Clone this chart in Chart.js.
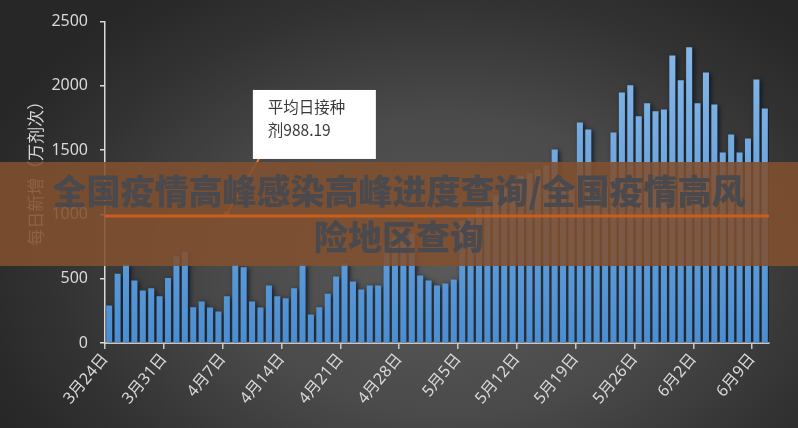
<!DOCTYPE html>
<html>
<head>
<meta charset="utf-8">
<script src="https://cdn.jsdelivr.net/npm/chart.js@4.4.0/dist/chart.umd.min.js"></script>
<style>
  html, body { margin: 0; padding: 0; width: 798px; height: 428px; overflow: hidden; background: #333; }
  #wrap {
    position: relative; width: 798px; height: 428px;
    background: radial-gradient(ellipse 62% 78% at 56% 62%, #5a5a5a 0%, #4a4a4a 45%, #333333 78%, #272727 100%);
  }
  #c, #ov { position: absolute; left: 0; top: 0; }
  #ov { pointer-events: none; }
  #banner {
    position: absolute; left: 0; top: 162px; width: 798px; height: 104px;
    background: rgba(129, 80, 47, 0.88);
    box-sizing: border-box; padding-top: 5px;
    text-align: center;
    font-family: "Noto Sans CJK SC", "Noto Sans", sans-serif;
    font-weight: 900; font-size: 34px; line-height: 46px;
    color: #4a4a4e;
  }
</style>
</head>
<body>
<div id="wrap">
  <canvas id="c" width="798" height="428"></canvas>
  <div id="banner"><div>全国疫情高峰感染高峰进度查询/全国疫情高风</div><div>险地区查询</div></div>
  <canvas id="ov" width="798" height="428"></canvas>
</div>
<script>
// ---------- data ----------
const DATES = [
  '3月24日','3月25日','3月26日','3月27日','3月28日','3月29日','3月30日','3月31日',
  '4月1日','4月2日','4月3日','4月4日','4月5日','4月6日','4月7日','4月8日','4月9日','4月10日',
  '4月11日','4月12日','4月13日','4月14日','4月15日','4月16日','4月17日','4月18日','4月19日','4月20日',
  '4月21日','4月22日','4月23日','4月24日','4月25日','4月26日','4月27日','4月28日','4月29日','4月30日',
  '5月1日','5月2日','5月3日','5月4日','5月5日','5月6日','5月7日','5月8日','5月9日','5月10日',
  '5月11日','5月12日','5月13日','5月14日','5月15日','5月16日','5月17日','5月18日','5月19日','5月20日',
  '5月21日','5月22日','5月23日','5月24日','5月25日','5月26日','5月27日','5月28日','5月29日','5月30日',
  '5月31日','6月1日','6月2日','6月3日','6月4日','6月5日','6月6日','6月7日','6月8日','6月9日','6月10日'
];
const DOSES = [
  292, 538, 610, 486, 408, 426, 364, 505,
  673, 707, 279, 323, 276, 245, 364, 610, 590, 323,
  276, 447, 364, 349, 426, 610, 222, 279, 383, 517,
  620, 478, 416, 447, 447, 760, 820, 880, 850, 525,
  486, 447, 463, 494, 950, 1000, 1050, 1100, 1150, 1200,
  1250, 1300, 1320, 1350, 1380, 1506, 1250, 1200, 1716, 1661,
  1150, 1215, 1638, 1949, 2004, 1763, 1864, 1802, 1817, 2237,
  2043, 2300, 1864, 2105, 1856, 1482, 1622, 1482, 1591, 2050, 1825
];
const Y_TICKS = [0, 500, 1000, 1500, 2000, 2500];
const LABEL_EVERY = 7;
const AVG = 988.19;
const AVG_LABEL = ['平均日接种', '剂988.19'];
const ANCHOR_INDEX = 14;
const Y_TITLE = '每日新增（万剂次）';

// ---------- plugins ----------
const barShadow = {
  id: 'barShadow',
  beforeDatasetDraw(chart) {
    const c = chart.ctx;
    c.save();
    c.shadowColor = 'rgba(8,16,30,0.85)';
    c.shadowBlur = 5;
    c.shadowOffsetX = 2;
    c.shadowOffsetY = 1;
  },
  afterDatasetDraw(chart) { chart.ctx.restore(); }
};

const yTitle = {
  id: 'yTitle',
  afterDraw(chart) {
    const c = chart.ctx;
    const a = chart.chartArea;
    c.save();
    c.translate(36, (a.top + a.bottom) / 2 - 13);
    c.rotate(-Math.PI / 2);
    c.fillStyle = '#d9d9d9';
    c.font = '17px "Noto Sans CJK SC", sans-serif';
    c.textAlign = 'center';
    c.textBaseline = 'middle';
    c.fillText(Y_TITLE, 0, 0);
    c.restore();
  }
};

// callout (box + leader) on the chart canvas; average line on the top overlay
const avgAnno = {
  id: 'avgAnno',
  afterDatasetsDraw(chart) {
    const c = chart.ctx;
    const y = chart.scales.y.getPixelForValue(AVG);
    const ax = chart.scales.x.getPixelForValue(ANCHOR_INDEX);
    const bx = ax + 26, bw = 123, bh = 69, by = y - 126;
    c.save();
    c.strokeStyle = '#f07a2a';
    c.lineWidth = 2;
    c.beginPath();
    c.moveTo(bx + 6, by + bh);
    c.lineTo(ax, y - 2);
    c.stroke();
    c.fillStyle = '#f07a2a';
    c.beginPath();
    c.arc(ax, y - 2, 3, 0, Math.PI * 2);
    c.fill();
    c.fillStyle = '#ffffff';
    c.fillRect(bx, by, bw, bh);
    c.fillStyle = '#3a3a3a';
    c.font = '15.5px "Noto Sans CJK SC", sans-serif';
    c.textAlign = 'left';
    c.textBaseline = 'middle';
    c.fillText(AVG_LABEL[0], bx + 15, by + 17);
    c.fillText(AVG_LABEL[1], bx + 15, by + 40);
    c.restore();
  },
  afterDraw(chart) {
    const o = document.getElementById('ov').getContext('2d');
    const a = chart.chartArea;
    const y = chart.scales.y.getPixelForValue(AVG);
    o.clearRect(0, 0, o.canvas.width, o.canvas.height);
    o.save();
    o.strokeStyle = '#c95d1b';
    o.lineWidth = 3;
    o.beginPath();
    o.moveTo(a.left, y);
    o.lineTo(a.right, y);
    o.stroke();
    o.restore();
  }
};

// ---------- chart ----------
const ctx = document.getElementById('c').getContext('2d');
const FONT = '"Noto Sans", "Noto Sans CJK SC", sans-serif';

new Chart(ctx, {
  type: 'bar',
  data: {
    labels: DATES,
    datasets: [{
      data: DOSES,
      backgroundColor: (context) => {
        const area = context.chart.chartArea;
        if (!area) return '#5b9bd5';
        const g = context.chart.ctx.createLinearGradient(0, area.top, 0, area.bottom);
        g.addColorStop(0, '#8bbbe9');
        g.addColorStop(1, '#4a8ed2');
        return g;
      },
      borderWidth: 0,
      barPercentage: 0.72,
      categoryPercentage: 1.0
    }]
  },
  options: {
    responsive: false,
    animation: false,
    devicePixelRatio: 1,
    layout: { padding: { top: 20, right: 29, left: 0, bottom: 0 } },
    plugins: { legend: { display: false }, tooltip: { enabled: false }, title: { display: false } },
    scales: {
      x: {
        type: 'category',
        offset: true,
        grid: {
          offset: true,
          drawOnChartArea: false,
          color: (g) => (g.index % LABEL_EVERY === 0 && g.index < DATES.length) ? '#c8c8c8' : 'rgba(0,0,0,0)',
          lineWidth: 1.5,
          tickLength: 6
        },
        border: { color: '#c8c8c8', width: 2 },
        ticks: {
          autoSkip: false,
          maxRotation: 50,
          minRotation: 50,
          color: '#d9d9d9',
          font: { size: 16, family: FONT },
          padding: 1,
          labelOffset: -4,
          callback: (v, i) => (i % LABEL_EVERY === 0 ? DATES[i] : '')
        },
        afterFit: (s) => { s.height = 85; }
      },
      y: {
        min: Y_TICKS[0],
        max: Y_TICKS[Y_TICKS.length - 1],
        afterBuildTicks: (s) => { s.ticks = Y_TICKS.map(v => ({ value: v })); },
        grid: { drawOnChartArea: false, color: '#d9d9d9', lineWidth: 1.5, tickLength: 5 },
        border: { color: '#d9d9d9', width: 1.5 },
        ticks: {
          color: '#d9d9d9',
          font: { size: 16, family: FONT },
          padding: 12,
          callback: (v) => String(v)
        },
        afterFit: (s) => { s.width = 105; }
      }
    }
  },
  plugins: [barShadow, avgAnno, yTitle]
});
</script>
</body>
</html>
